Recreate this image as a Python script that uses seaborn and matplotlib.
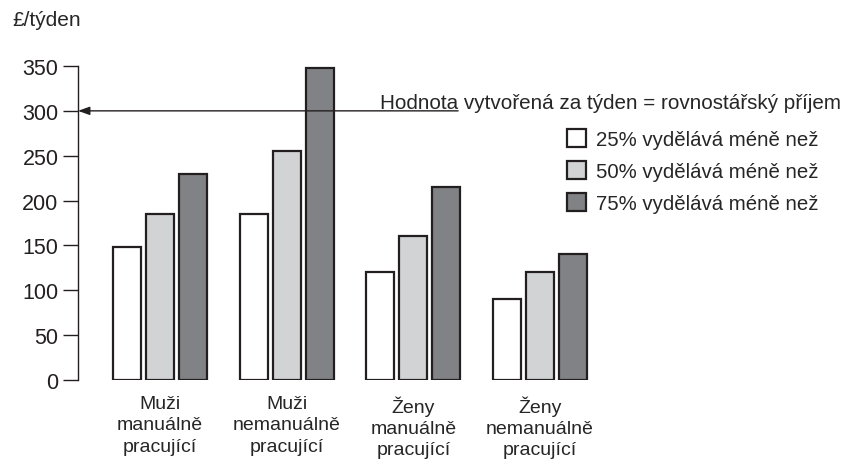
import pandas as pd
import matplotlib
matplotlib.use('Agg')
import matplotlib.pyplot as plt
import seaborn as sns

# Data
categories = ['Muži\nmanuálně\npracující', 'Muži\nnemanuálně\npracující',
              'Ženy\nmanuálně\npracující', 'Ženy\nnemanuálně\npracující']
series = ['25% vydělává méně než', '50% vydělává méně než', '75% vydělává méně než']
p25 = [148, 185, 120, 90]
p50 = [185, 255, 160, 120]
p75 = [230, 348, 215, 140]
yticks = [0, 50, 100, 150, 200, 250, 300, 350]
equal_income = 300

rows = []
for i, c in enumerate(categories):
    rows.append({'skupina': c, 'serie': series[0], 'hodnota': p25[i]})
    rows.append({'skupina': c, 'serie': series[1], 'hodnota': p50[i]})
    rows.append({'skupina': c, 'serie': series[2], 'hodnota': p75[i]})
df = pd.DataFrame(rows)

sns.set_style('ticks')
plt.rcParams['font.family'] = ['Liberation Sans', 'DejaVu Sans']

W, H = 845, 460
fig = plt.figure(figsize=(W / 100, H / 100), dpi=100)
ax = fig.add_axes([78 / W, (H - 381) / H, (W - 78) / W, (381 - 67) / H])

palette = {series[0]: '#ffffff', series[1]: '#d1d3d4', series[2]: '#808285'}
sns.barplot(data=df, x='skupina', y='hodnota', hue='serie', palette=palette,
            width=0.78, gap=0.15, edgecolor='#231f20', linewidth=1.6,
            saturation=1, ax=ax, legend=True)

ax.set_xlim(-0.647, -0.647 + (W - 78) / 126.7)
ax.set_ylim(0, 350)
ax.set_yticks(yticks)
ax.set_xlabel('')
ax.set_ylabel('')
ax.set_xticks(range(len(categories)))
ax.set_xticklabels(categories, fontsize=14, linespacing=1.32)
ax.tick_params(axis='x', length=0, pad=11, bottom=False)
ax.tick_params(axis='y', left=True, length=11, width=1, color='#231f20', pad=3,
               labelsize=15.5, labelcolor='#231f20')
for s in ['top', 'right', 'bottom']:
    ax.spines[s].set_visible(False)
ax.spines['left'].set_bounds(0, 350)
ax.spines['left'].set_color('#231f20')
ax.spines['left'].set_linewidth(1)

fig.text(12 / W, 1 - 21 / H, '£/týden', fontsize=15, va='center', ha='left')

# annotation text with the arrow underlining "Hodnota"
x0, y0 = 380, H - 109
fig.text(x0 / W, y0 / H, 'Hodnota vytvořená za týden = rovnostářský příjem',
         fontsize=14.9, ha='left', va='baseline')
probe = fig.text(x0 / W, y0 / H, 'Hodnota', fontsize=14.9, ha='left', va='baseline')
fig.canvas.draw()
bb = probe.get_window_extent()
probe.remove()
x_end = bb.x1 / W
ax.annotate('', xy=(0, equal_income), xycoords=('axes fraction', 'data'),
            xytext=(x_end, equal_income), textcoords=('figure fraction', 'data'),
            arrowprops=dict(arrowstyle='-|>,head_length=0.7,head_width=0.25',
                            color='#231f20', lw=1, shrinkA=0, shrinkB=0))

handles, labels = ax.get_legend_handles_labels()
ax.legend(handles, labels, loc='upper left', bbox_to_anchor=(567 / W, 1 - 130 / H),
          bbox_transform=fig.transFigure, frameon=False, fontsize=14.7,
          handlelength=0.95, handleheight=0.95, handletextpad=0.45,
          labelspacing=0.6, borderpad=0, borderaxespad=0)

fig.savefig('out.png', dpi=100)
